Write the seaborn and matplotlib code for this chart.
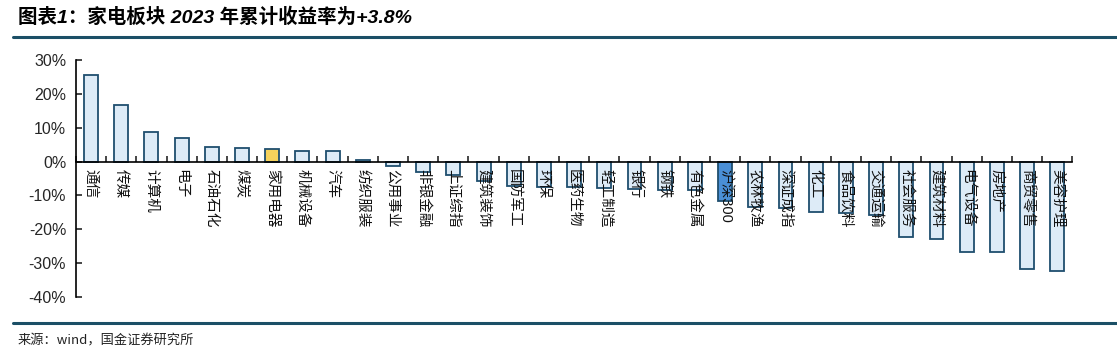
import matplotlib
matplotlib.use('Agg')
import matplotlib.pyplot as plt
import seaborn as sns
import pandas as pd
from matplotlib.ticker import FixedLocator, PercentFormatter

# 行业 2023 年累计收益率 (%)
categories = ['通信', '传媒', '计算机', '电子', '石油石化', '煤炭', '家用电器', '机械设备', '汽车',
              '纺织服装', '公用事业', '非银金融', '上证综指', '建筑装饰', '国防军工', '环保', '医药生物',
              '轻工制造', '银行', '钢铁', '有色金属', '沪深300', '农林牧渔', '深证成指', '化工',
              '食品饮料', '交通运输', '社会服务', '建筑材料', '电气设备', '房地产', '商贸零售', '美容护理']
returns = [25.5, 16.8, 8.8, 7.1, 4.2, 3.9, 3.8, 3.1, 3.1,
           0.4, -1.4, -3.0, -3.9, -5.6, -7.2, -7.4, -7.4,
           -7.7, -8.0, -8.3, -8.5, -11.7, -13.4, -13.6, -14.9,
           -15.3, -15.7, -22.3, -22.8, -26.6, -26.6, -31.7, -32.3]
highlight = {'家用电器': '#F5D25C', '沪深300': '#4A8FD6'}
yticks = [30, 20, 10, 0, -10, -20, -30, -40]

sns.set_style('white')
plt.rcParams['font.family'] = ['Liberation Sans', 'Noto Sans CJK SC']
plt.rcParams['axes.unicode_minus'] = False

df = pd.DataFrame({'行业': categories, '收益率': returns})
palette = {c: highlight.get(c, '#DDEBF7') for c in categories}

fig = plt.figure(figsize=(11.17, 3.54), dpi=100)
ax = fig.add_axes([0.068, 0.161, 0.892, 0.6695])

sns.barplot(data=df, x='行业', y='收益率', hue='行业', palette=palette, legend=False,
            width=0.46, edgecolor='#1F4E6E', linewidth=1.3, saturation=1, ax=ax)

ax.set_ylim(-40, 30)
ax.set_xlim(-0.5, len(categories) - 0.5)
ax.yaxis.set_major_locator(FixedLocator(yticks))
ax.yaxis.set_major_formatter(PercentFormatter(decimals=0))
ax.set_xlabel('')
ax.set_ylabel('')
# 标签画在柱子上方
ax.set_axisbelow(False)

for s in ['top', 'right']:
    ax.spines[s].set_visible(False)
ax.spines['bottom'].set_position(('data', 0))
ax.spines['left'].set_bounds(-40, 30)
for s in ['left', 'bottom']:
    ax.spines[s].set_color('black')
    ax.spines[s].set_linewidth(1.2)
    ax.spines[s].set_zorder(3)

ax.tick_params(axis='y', direction='in', length=4, width=1.2, labelsize=11.5, pad=7, left=True)
ax.set_xticks(range(len(categories)))
ax.set_xticklabels(categories, rotation=-90, fontsize=10.5, va='top', ha='center', color='#111111')
ax.tick_params(axis='x', which='major', length=0, pad=5)
ax.set_xticks([i + 0.5 for i in range(-1, len(categories))], minor=True)
ax.tick_params(axis='x', which='minor', direction='in', length=4, width=1.2, bottom=True)

# 标题与分隔线
fig.text(0.016, 0.952, '图表1：家电板块 2023 年累计收益率为+3.8%', fontsize=14,
         fontweight='bold', style='italic', va='center', ha='left', color='black')
fig.add_artist(plt.Line2D([0.012, 1.0], [0.895, 0.895], color='#1B4F66', lw=2.2))
fig.add_artist(plt.Line2D([0.012, 1.0], [0.088, 0.088], color='#1B4F66', lw=2.2))
fig.text(0.016, 0.038, '来源：wind，国金证券研究所', fontsize=9.5, va='center', ha='left',
         family=['Noto Sans CJK SC', 'DejaVu Sans'], color='#222222')

fig.savefig('out.png', dpi=100)
